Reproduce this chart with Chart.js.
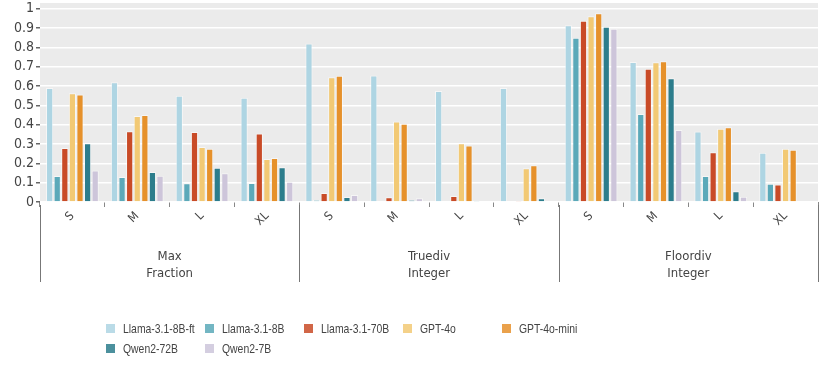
<!DOCTYPE html>
<html>
<head>
<meta charset="utf-8">
<script src="https://cdn.jsdelivr.net/npm/chart.js@4"></script>
<style>
  html, body { margin: 0; padding: 0; background: #fff; }
  #wrap { position: relative; width: 830px; height: 372px; }
  #legend {
    position: absolute; left: 106px; top: 320px;
    display: grid; grid-template-columns: repeat(5, 99px); row-gap: 4px;
    font-family: "Liberation Sans", Arial, sans-serif;
    font-size: 13px; color: #444;
  }
  .item { display: flex; align-items: center; height: 16px; white-space: nowrap; }
  .box { width: 9px; height: 9px; margin-right: 8px; opacity: 0.85; flex: none; }
  .txt { display: inline-block; transform: scaleX(0.8); transform-origin: left center; }
</style>
</head>
<body>
<div id="wrap">
  <canvas id="chart" width="830" height="372"></canvas>
  <div id="legend"></div>
</div>
<script>
// data
const sizes = ["S", "M", "L", "XL"];
const categories = [...sizes, ...sizes, ...sizes];
const groups = [["Max", "Fraction"], ["Truediv", "Integer"], ["Floordiv", "Integer"]];
const yTicks = [0, 0.1, 0.2, 0.3, 0.4, 0.5, 0.6, 0.7, 0.8, 0.9, 1];

const seriesNames = ["Llama-3.1-8B-ft", "Llama-3.1-8B", "Llama-3.1-70B", "GPT-4o", "GPT-4o-mini", "Qwen2-72B", "Qwen2-7B"];
const seriesColors = ["#aed5e3", "#5ba9b9", "#c94b27", "#f2c974", "#e6912b", "#2c7d8c", "#cdc5da"];

const llama8bFt  = [0.59, 0.62, 0.55, 0.54,   0.82, 0.655, 0.575, 0.59,   0.915, 0.725, 0.365, 0.255];
const llama8b    = [0.135, 0.13, 0.097, 0.098, 0.01, 0.003, 0.0, 0.0,     0.85, 0.455, 0.134, 0.094];
const llama70b   = [0.28, 0.366, 0.362, 0.355, 0.046, 0.024, 0.031, 0.007, 0.938, 0.69, 0.258, 0.091];
const gpt4o      = [0.563, 0.445, 0.285, 0.222, 0.646, 0.417, 0.304, 0.175, 0.962, 0.723, 0.379, 0.275];
const gpt4oMini  = [0.557, 0.45, 0.275, 0.228, 0.654, 0.405, 0.292, 0.19,  0.977, 0.728, 0.387, 0.27];
const qwen72b    = [0.304, 0.155, 0.177, 0.18, 0.026, 0.01, 0.007, 0.02,  0.907, 0.641, 0.055, 0.0];
const qwen7b     = [0.163, 0.136, 0.149, 0.105, 0.036, 0.02, 0.003, 0.0,  0.897, 0.373, 0.027, 0.0];

const seriesData = [llama8bFt, llama8b, llama70b, gpt4o, gpt4oMini, qwen72b, qwen7b];

const FONT = '"DejaVu Sans Condensed", "Liberation Sans", sans-serif';

// grey panel behind the bars
const panelBg = {
  id: "panelBg",
  beforeDraw(chart) {
    const { ctx, chartArea: a } = chart;
    ctx.save();
    ctx.fillStyle = "#ebebeb";
    ctx.fillRect(a.left, a.top, a.right - a.left, a.bottom - a.top);
    ctx.restore();
  }
};

// group dividers + group names under the size ticks
const groupAxis = {
  id: "groupAxis",
  afterDraw(chart) {
    const { ctx, chartArea: a } = chart;
    const x = chart.scales.x;
    const half = (x.getPixelForValue(1) - x.getPixelForValue(0)) / 2;
    ctx.save();
    ctx.strokeStyle = "#777";
    ctx.lineWidth = 1;
    for (let g = 0; g <= groups.length; g++) {
      const i = g * 4;
      const px = i < categories.length ? x.getPixelForValue(i) - half : x.getPixelForValue(i - 1) + half;
      ctx.beginPath();
      ctx.moveTo(Math.round(px) + 0.5, a.bottom + 3);
      ctx.lineTo(Math.round(px) + 0.5, a.bottom + 80);
      ctx.stroke();
    }
    ctx.fillStyle = "#444";
    ctx.font = "13px " + FONT;
    ctx.textAlign = "center";
    ctx.textBaseline = "middle";
    groups.forEach((lines, g) => {
      const cx = (x.getPixelForValue(g * 4) + x.getPixelForValue(g * 4 + 3)) / 2;
      lines.forEach((t, k) => ctx.fillText(t, cx, a.bottom + 55 + k * 17));
    });
    ctx.restore();
  }
};

const chart = new Chart(document.getElementById("chart"), {
  type: "bar",
  data: {
    labels: categories,
    datasets: seriesNames.map((name, i) => ({
      label: name,
      data: seriesData[i],
      backgroundColor: seriesColors[i],
      borderColor: "rgba(255,255,255,0.55)",
      borderWidth: 1,
      categoryPercentage: 0.82,
      barPercentage: 0.95
    }))
  },
  options: {
    responsive: false,
    animation: false,
    layout: { padding: { top: 3, right: 12, left: 0, bottom: 0 } },
    plugins: { legend: { display: false }, tooltip: { enabled: false } },
    scales: {
      x: {
        grid: { display: true, drawOnChartArea: false, offset: true, tickLength: 5, tickColor: "#888" },
        border: { display: false },
        ticks: { color: "#444", font: { family: FONT, size: 12 }, minRotation: 45, maxRotation: 45, padding: 2 },
        afterFit(scale) { scale.height = 170; }
      },
      y: {
        min: 0,
        max: 1.03,
        afterBuildTicks(scale) { scale.ticks = yTicks.map(v => ({ value: v })); },
        grid: { color: "#ffffff", lineWidth: 1.5, tickLength: 4, tickColor: "#666" },
        border: { display: false },
        ticks: {
          color: "#444", font: { family: FONT, size: 14 }, padding: 2, autoSkip: false,
          callback: v => String(v)
        },
        afterFit(scale) { scale.width = 40; scale.paddingTop = 0; scale.paddingBottom = 0; }
      }
    }
  },
  plugins: [panelBg, groupAxis]
});

// legend laid out in fixed columns
const legend = document.getElementById("legend");
chart.data.datasets.forEach(ds => {
  const item = document.createElement("div");
  item.className = "item";
  item.innerHTML = '<span class="box" style="background:' + ds.backgroundColor + '"></span><span class="txt">' + ds.label + '</span>';
  legend.appendChild(item);
});
</script>
</body>
</html>
